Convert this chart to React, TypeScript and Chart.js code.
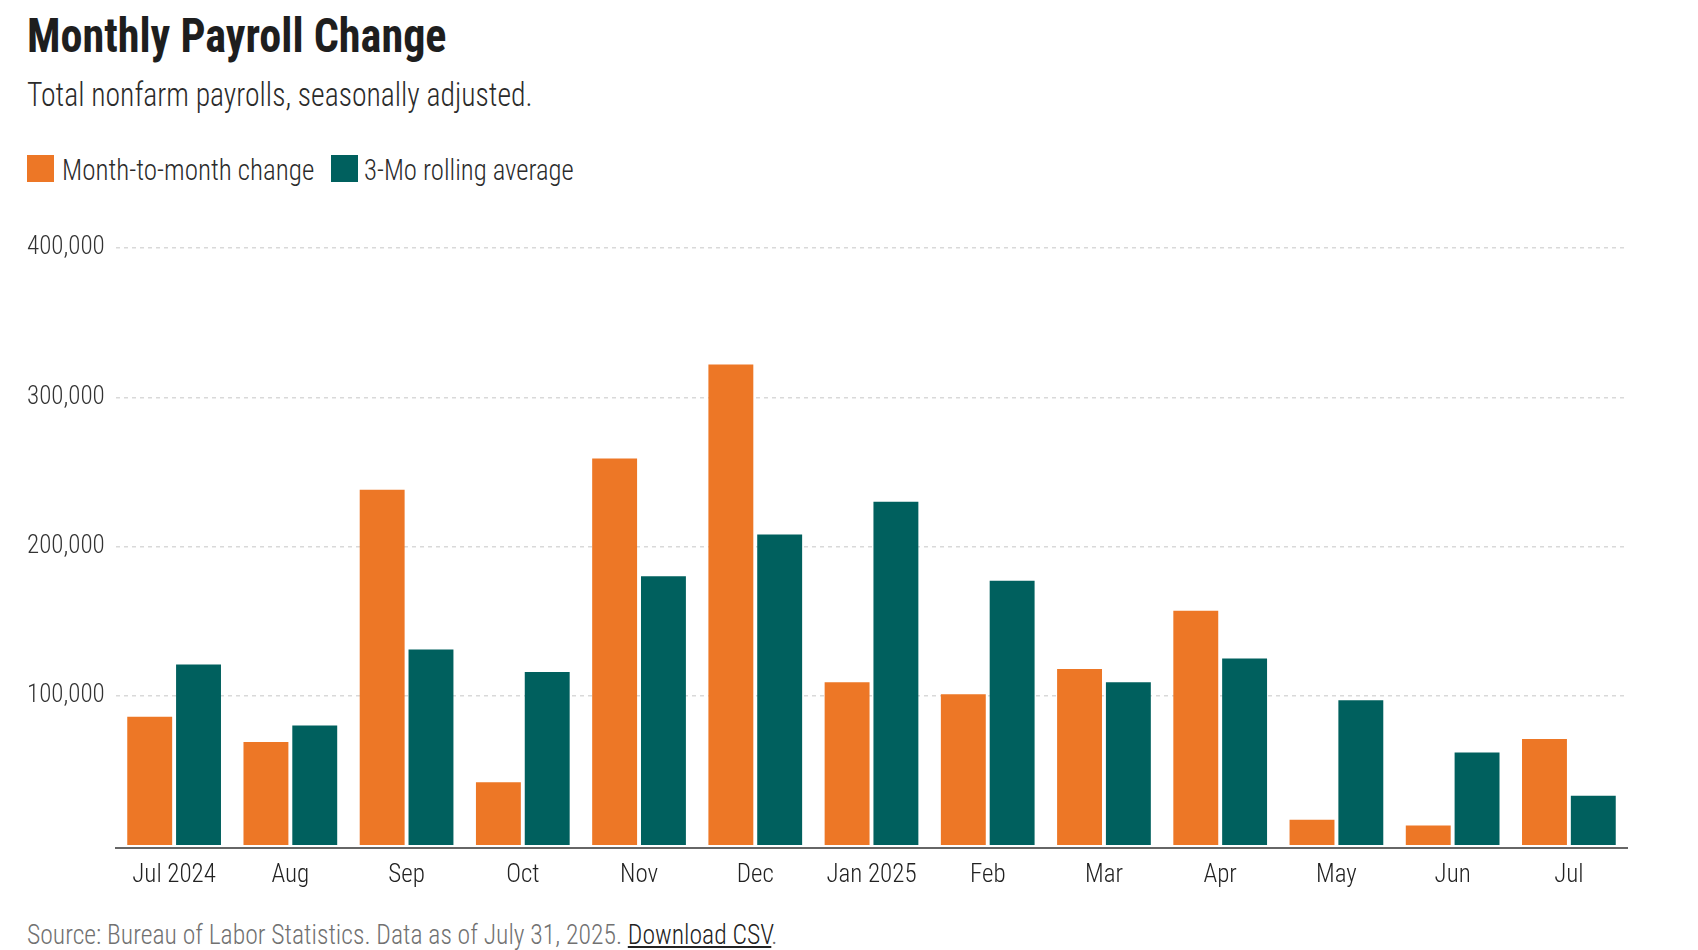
import React, { useEffect, useRef } from 'react';
import Chart from 'chart.js/auto';

const FONT = '"Roboto Condensed", "DejaVu Sans Condensed", sans-serif';

const months = ['Jul 2024', 'Aug', 'Sep', 'Oct', 'Nov', 'Dec', 'Jan 2025', 'Feb', 'Mar', 'Apr', 'May', 'Jun', 'Jul'];
const monthlyChange = [86000, 69000, 238000, 42000, 259000, 322000, 109000, 101000, 118000, 157000, 17000, 13000, 71000];
const rollingAverage = [121000, 80000, 131000, 116000, 180000, 208000, 230000, 177000, 109000, 125000, 97000, 62000, 33000];
const yTicks = [100000, 200000, 300000, 400000];

const ORANGE = '#ED7726';
const TEAL = '#00605E';

const PayrollChart: React.FC = () => {
  const canvasRef = useRef<HTMLCanvasElement | null>(null);

  useEffect(() => {
    if (!canvasRef.current) return;
    const chart = new Chart(canvasRef.current, {
      type: 'bar',
      data: {
        labels: months,
        datasets: [
          { label: 'Month-to-month change', data: monthlyChange, backgroundColor: ORANGE, borderWidth: 0 },
          { label: '3-Mo rolling average', data: rollingAverage, backgroundColor: TEAL, borderWidth: 0 },
        ],
      },
      options: {
        responsive: false,
        maintainAspectRatio: false,
        animation: false,
        datasets: {
          bar: { barPercentage: 0.92, categoryPercentage: 0.84 },
        },
        layout: { padding: { left: 27, right: 71, top: 15, bottom: 0 } },
        plugins: {
          legend: { display: false },
          tooltip: { enabled: false },
        },
        scales: {
          x: {
            grid: { display: false, drawTicks: false },
            border: { display: true, color: '#666666', width: 2 },
            ticks: {
              color: '#222222',
              font: { family: FONT, size: 25, weight: 300 },
              padding: 13,
              maxRotation: 0,
              autoSkip: false,
            },
            afterFit: (scale: any) => {
              scale.height = 62;
            },
          },
          y: {
            min: -2000,
            max: 400000,
            afterBuildTicks: (axis: any) => {
              axis.ticks = yTicks.map((v) => ({ value: v }));
            },
            border: { display: false, dash: [4, 4] },
            grid: { color: '#d9d9d9', lineWidth: 1.5, drawTicks: false },
            ticks: {
              color: '#333333',
              font: { family: FONT, size: 25, weight: 300 },
              crossAlign: 'far',
              callback: (v: any) => Number(v).toLocaleString('en-US'),
            },
            afterFit: (scale: any) => {
              scale.width = 89;
            },
          },
        },
      },
    });
    return () => {
      chart.destroy();
    };
  }, []);

  return <canvas ref={canvasRef} width={1698} height={680} style={{ position: 'absolute', left: 0, top: 230 }} />;
};

// absolutely placed line of text, narrowed a little to match the condensed face of the original
const Line: React.FC<{ left: number; top: number; size: number; squeeze: number; color: string; weight?: number; children: React.ReactNode }> = ({
  left, top, size, squeeze, color, weight = 300, children,
}) => (
  <div
    style={{
      position: 'absolute', left, top, fontSize: size, lineHeight: `${size}px`, fontWeight: weight, color,
      whiteSpace: 'nowrap', transform: `scaleX(${squeeze})`, transformOrigin: 'left center',
    }}
  >
    {children}
  </div>
);

const App: React.FC = () => {
  useEffect(() => {
    document.body.style.margin = '0';
    document.body.style.overflow = 'hidden';
  }, []);

  const swatch = (color: string, left: number) => (
    <div style={{ position: 'absolute', left, top: 155, width: 27, height: 27, background: color }} />
  );

  return (
    <div style={{ position: 'relative', width: 1698, height: 950, fontFamily: FONT, background: '#fff', overflow: 'hidden' }}>
      <Line left={27} top={12} size={48} squeeze={0.92} color="#1e1e1e" weight={700}>Monthly Payroll Change</Line>
      <Line left={27} top={78} size={33} squeeze={0.9} color="#2b2b2b">Total nonfarm payrolls, seasonally adjusted.</Line>
      {swatch(ORANGE, 27)}
      <Line left={62} top={155} size={30} squeeze={0.9} color="#2b2b2b">Month-to-month change</Line>
      {swatch(TEAL, 331)}
      <Line left={364} top={155} size={30} squeeze={0.89} color="#2b2b2b">3-Mo rolling average</Line>
      <PayrollChart />
      <Line left={27} top={921} size={28} squeeze={0.916} color="#717171">
        Source: Bureau of Labor Statistics. Data as of July 31, 2025.{' '}
        <span style={{ color: '#222222', textDecoration: 'underline' }}>Download CSV</span>.
      </Line>
    </div>
  );
};

export default App;
